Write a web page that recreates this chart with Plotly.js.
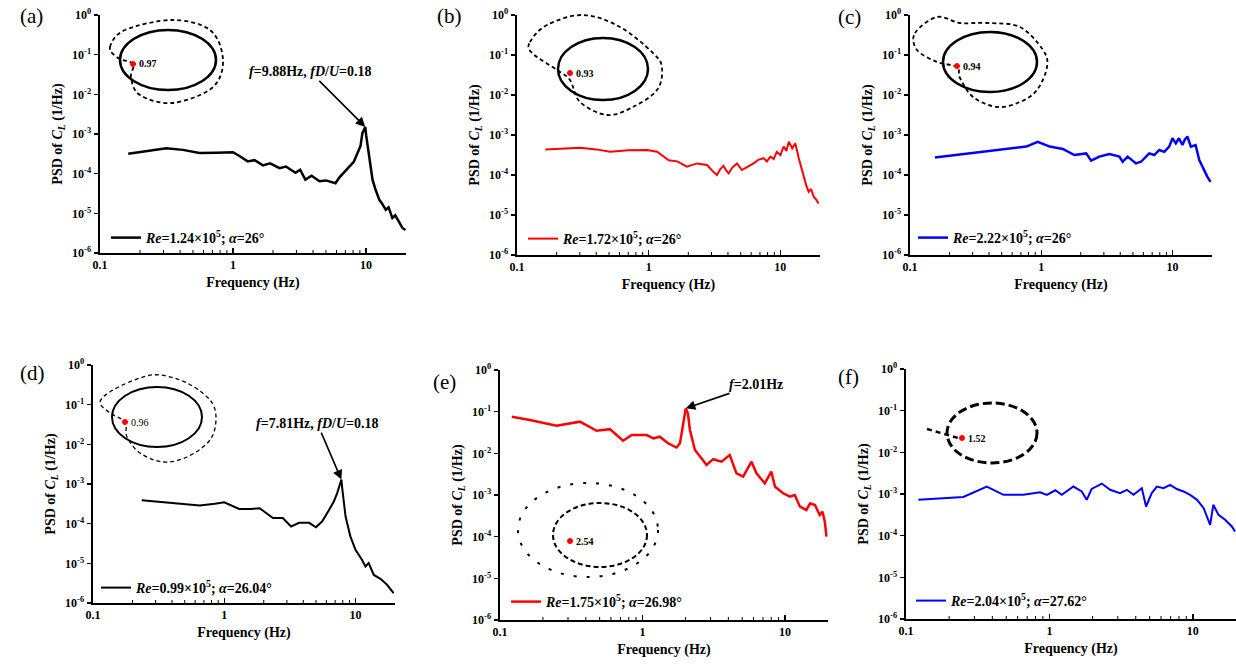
<!DOCTYPE html>
<html>
<head>
<meta charset="utf-8">
<script src="https://cdn.plot.ly/plotly-3.0.1.min.js"></script>
<style>html,body{margin:0;padding:0;background:#fff;}#chart{width:1236px;height:667px;}</style>
</head>
<body>
<div id="chart"></div>
<script>
// ---------- data ----------
const freqA = [0.163,0.22,0.316,0.42,0.56,0.75,1.0,1.15,1.29,1.45,1.68,1.9,2.24,2.5,2.95,3.2,3.5,3.9,4.47,5.0,5.9,6.3,6.6,7.0,7.5,8.1,8.66,9.1,9.4,9.88,10.05,10.3,10.7,11.2,11.8,12.6,13.2,14.1,14.8,15.8,16.6,17.5,18.8,19.8];
const psdA = [3.16e-4,3.63e-4,4.37e-4,3.98e-4,3.31e-4,3.39e-4,3.47e-4,2.63e-4,2.04e-4,2.19e-4,1.62e-4,1.82e-4,1.38e-4,1.51e-4,1.05e-4,1.26e-4,7.08e-5,8.9e-5,6.46e-5,6.76e-5,5.75e-5,7.94e-5,9.33e-5,1.12e-4,1.51e-4,2.0e-4,3.31e-4,5.01e-4,1.05e-3,1.51e-3,8.9e-4,4.9e-4,1.78e-4,7.08e-5,3.98e-5,2.19e-5,1.78e-5,1.23e-5,1.41e-5,7.6e-6,8.9e-6,6.3e-6,4.27e-6,3.8e-6];

const freqB = [0.164,0.23,0.303,0.40,0.51,0.7,0.97,1.16,1.42,1.65,1.95,2.33,2.77,3.1,3.3,3.5,3.7,3.9,4.05,4.3,4.68,5.1,5.6,6.27,6.8,7.46,7.9,8.39,8.9,9.4,10.0,10.6,11.1,11.6,12.3,13.0,13.8,14.4,15.0,15.7,16.4,17.1,17.9,18.6,19.5];
const psdB = [4.37e-4,4.68e-4,4.79e-4,4.37e-4,3.8e-4,4.17e-4,4.22e-4,3.8e-4,2.34e-4,2.19e-4,1.62e-4,1.95e-4,1.78e-4,1.2e-4,1.0e-4,1.41e-4,1.7e-4,1.26e-4,1.1e-4,1.51e-4,1.95e-4,1.33e-4,1.58e-4,1.95e-4,2.4e-4,2.63e-4,2.19e-4,2.88e-4,2.51e-4,3.8e-4,3.16e-4,5.13e-4,3.98e-4,6.76e-4,4.68e-4,6.17e-4,2.63e-4,1.58e-4,9.1e-5,5.6e-5,3.8e-5,4.47e-5,2.88e-5,2.51e-5,1.95e-5];

const freqC = [0.155,0.286,0.51,0.77,0.94,1.16,1.46,1.79,2.2,2.4,2.77,3.3,3.94,4.17,4.55,5.27,5.75,6.2,6.65,7.26,7.93,8.66,9.44,10.0,10.6,11.2,11.9,12.4,13.0,13.8,15.0,16.0,17.4,18.4,19.5];
const psdC = [2.75e-4,3.47e-4,4.22e-4,5.13e-4,6.76e-4,5.13e-4,4.47e-4,3.16e-4,3.47e-4,2.29e-4,2.88e-4,3.35e-4,2.88e-4,2.14e-4,2.88e-4,1.95e-4,2.14e-4,2.82e-4,3.47e-4,3.16e-4,4.22e-4,3.8e-4,5.13e-4,8.3e-4,6.17e-4,8.3e-4,5.62e-4,7.59e-4,9.1e-4,5.13e-4,5.62e-4,2.37e-4,1.33e-4,9.1e-5,6.76e-5];

const freqD = [0.235,0.41,0.65,0.85,1.0,1.3,1.6,1.86,2.09,2.35,2.79,3.23,3.72,4.43,5.0,5.58,6.3,6.84,7.25,7.81,7.95,8.4,9.14,10.0,11.2,11.9,12.6,13.8,15.5,17.4,19.5];
const psdD = [3.89e-4,3.31e-4,2.88e-4,3.16e-4,3.47e-4,2.34e-4,2.34e-4,2.45e-4,1.86e-4,1.38e-4,1.38e-4,8.5e-5,1.05e-4,1.05e-4,8.1e-5,1.15e-4,2.24e-4,3.63e-4,5.89e-4,1.29e-3,7.08e-4,1.51e-4,4.79e-5,2.19e-5,1.23e-5,8.3e-6,1.02e-5,5.1e-6,4.07e-6,2.88e-6,1.78e-6];

const freqE = [0.121,0.162,0.249,0.364,0.476,0.59,0.73,0.84,1.07,1.19,1.32,1.51,1.73,1.83,2.01,2.08,2.15,2.33,2.59,2.81,3.13,3.58,4.09,4.56,5.08,5.81,6.3,7.2,8.0,8.5,9.7,10.8,11.7,12.7,14.1,15.0,16.2,17.5,18.3,19.0,19.5];
const psdE = [7.59e-2,6.31e-2,4.57e-2,5.75e-2,3.47e-2,3.8e-2,2.0e-2,2.75e-2,2.75e-2,2.29e-2,2.51e-2,1.74e-2,1.38e-2,1.74e-2,1.2e-1,9.1e-2,3.63e-2,1.2e-2,7.6e-3,5.25e-3,7.24e-3,6.31e-3,9.1e-3,3.31e-3,2.75e-3,6.31e-3,3.31e-3,1.91e-3,3.63e-3,1.58e-3,1.1e-3,9.1e-4,1.0e-3,5.25e-4,4.37e-4,6.31e-4,5.75e-4,3.31e-4,3.98e-4,2.29e-4,1.0e-4];

const freqF = [0.122,0.251,0.366,0.478,0.66,0.86,0.96,1.1,1.22,1.47,1.68,1.82,1.97,2.32,2.65,3.11,3.47,3.86,4.41,4.72,5.17,5.61,6.24,6.95,7.73,8.6,9.58,10.7,11.9,13.2,13.9,15.1,16.8,18.7,19.7];
const psdF = [7.24e-4,8.51e-4,1.51e-3,9.55e-4,9.55e-4,1.1e-3,9.55e-4,1.23e-3,9.55e-4,1.51e-3,1.15e-3,7.24e-4,1.32e-3,1.78e-3,1.26e-3,1.05e-3,1.26e-3,9.55e-4,1.38e-3,5.01e-4,1.05e-3,1.51e-3,1.38e-3,1.66e-3,1.32e-3,1.15e-3,9.55e-4,7.24e-4,4.57e-4,1.82e-4,5.5e-4,3.16e-4,2.4e-4,1.66e-4,1.26e-4];

const panelLabels = ['(a)','(b)','(c)','(d)','(e)','(f)'];
const seriesNames = [
  '<i>Re</i>=1.24×10<sup>5</sup>; <i>α</i>=26°',
  '<i>Re</i>=1.72×10<sup>5</sup>; <i>α</i>=26°',
  '<i>Re</i>=2.22×10<sup>5</sup>; <i>α</i>=26°',
  '<i>Re</i>=0.99×10<sup>5</sup>; <i>α</i>=26.04°',
  '<i>Re</i>=1.75×10<sup>5</sup>; <i>α</i>=26.98°',
  '<i>Re</i>=2.04×10<sup>5</sup>; <i>α</i>=27.62°'
];
const insetValues = ['0.97','0.93','0.94','0.96','2.54','1.52'];
const xTickVals = [0.1,1,10];
const xTickText = ['0.1','1','10'];
const xMinorVals = [0.2,0.3,0.4,0.5,0.6,0.7,0.8,0.9,2,3,4,5,6,7,8,9];
const yTickVals = [1,1e-1,1e-2,1e-3,1e-4,1e-5,1e-6];
const yTickText = ['10<sup>0</sup>','10<sup>-1</sup>','10<sup>-2</sup>','10<sup>-3</sup>','10<sup>-4</sup>','10<sup>-5</sup>','10<sup>-6</sup>'];
const peakTextA = '<i>f</i>=9.88Hz, <i>fD</i>/<i>U</i>=0.18';
const peakTextD = '<i>f</i>=7.81Hz, <i>fD</i>/<i>U</i>=0.18';
const peakTextE = '<i>f</i>=2.01Hz';

// ---------- layout helpers ----------
const W = 1236, H = 667;
const X = v => v / W, Y = v => 1 - v / H;
const FONT = 'Liberation Serif';
const colors = ['#000000','#ff0000','#0000ff','#000000','#ff0000','#0000ff'];
const widths = [2.5,2,2.5,2,2.5,2];
const freqs = [freqA,freqB,freqC,freqD,freqE,freqF];
const psds = [psdA,psdB,psdC,psdD,psdE,psdF];
// pixel boxes [x0,x1,ytop,ybottom]
const boxes = [[100,406,15,253],[517,820,15,255],[910,1212,15,255],[93,395,365,603],[500,828,370,620],[906,1236,369,619]];
const legendPos = [[106,238],[523,239],[913,238],[96,588],[506,602],[911,601]];
const labelPos = [[31,16],[449,16],[849,17],[32,373],[444,382],[848,377]];

const data = [];
const layout = {
  width: W, height: H, margin: {l:0,r:0,t:0,b:0},
  paper_bgcolor: '#fff', plot_bgcolor: 'rgba(0,0,0,0)',
  showlegend: true, shapes: [], annotations: [],
  font: {family: FONT, color: '#000'}
};

for (let i = 0; i < 6; i++) {
  const s = i === 0 ? '' : String(i + 1);
  const b = boxes[i];
  const legKey = i === 0 ? 'legend' : 'legend' + (i + 1);
  data.push({
    x: freqs[i], y: psds[i], type: 'scatter', mode: 'lines',
    line: {color: colors[i], width: widths[i]},
    name: seriesNames[i], xaxis: 'x' + s, yaxis: 'y' + s, legend: legKey,
    hoverinfo: 'x+y'
  });
  layout['xaxis' + s] = {
    type: 'log', domain: [X(b[0]), X(b[1])], anchor: 'y' + s,
    range: [-1, Math.log10(20)], tickvals: xTickVals, ticktext: xTickText,
    showline: true, linewidth: 2, linecolor: '#000', showgrid: false, zeroline: false,
    ticks: 'inside', ticklen: 5, tickwidth: 1.5, tickcolor: '#000',
    tickfont: {family: FONT, size: 12, weight: 'bold', color: '#000'},
    title: {text: 'Frequency (Hz)', font: {family: FONT, size: 14, weight: 'bold', color: '#000'}, standoff: 6},
    automargin: false
  };
  layout['yaxis' + s] = {
    type: 'log', domain: [Y(b[3]), Y(b[2])], anchor: 'x' + s,
    range: [-6, 0], tickvals: yTickVals, ticktext: yTickText,
    showline: true, linewidth: 2.5, linecolor: '#000', showgrid: false, zeroline: false,
    ticks: 'outside', ticklen: 4, tickwidth: 1.5, tickcolor: '#000',
    tickfont: {family: FONT, size: 12, weight: 'bold', color: '#000'},
    title: {text: 'PSD of <i>C</i><sub><i>L</i></sub> (1/Hz)', font: {family: FONT, size: 14, weight: 'bold', color: '#000'}, standoff: 6},
    automargin: false
  };
  layout[legKey] = {
    x: X(legendPos[i][0]), y: Y(legendPos[i][1]), xref: 'paper', yref: 'paper',
    xanchor: 'left', yanchor: 'middle', bgcolor: 'rgba(0,0,0,0)', borderwidth: 0,
    font: {family: FONT, size: 14, weight: 'bold', color: '#000'}, itemwidth: 30,
    tracegroupgap: 0
  };
  layout.annotations.push({
    text: panelLabels[i], xref: 'paper', yref: 'paper',
    x: X(labelPos[i][0]), y: Y(labelPos[i][1]), showarrow: false,
    xanchor: 'center', yanchor: 'middle', font: {family: FONT, size: 21, color: '#000'}
  });
  // minor x ticks drawn as short inward line shapes at the minor tick values
  xMinorVals.forEach(v => {
    layout.shapes.push({type: 'line', xref: 'x' + s, yref: 'paper',
      x0: v, x1: v, y0: Y(b[3]), y1: Y(b[3] - 3), line: {color: '#000', width: 1}});
  });
}

// peak annotations (arrow tip at series maximum)
function peakAnn(fr, ps, s, text, ax, ay) {
  let k = 0;
  for (let j = 1; j < ps.length; j++) if (ps[j] > ps[k]) k = j;
  layout.annotations.push({
    text: text, xref: 'x' + s, yref: 'y' + s,
    x: Math.log10(fr[k]), y: Math.log10(ps[k]), ax: ax, ay: ay,
    showarrow: true, arrowhead: 2, arrowsize: 1.2, arrowwidth: 1.6, arrowcolor: '#000',
    font: {family: FONT, size: 14, weight: 'bold', color: '#000'}
  });
}
peakAnn(freqA, psdA, '', peakTextA, -55, -55);
peakAnn(freqD, psdD, '4', peakTextD, -24, -56);
peakAnn(freqE, psdE, '5', peakTextE, 70, -24);

// ---------- inset sketches (decoration in paper coordinates) ----------
function fp(p) { return X(p[0]).toFixed(5) + ',' + Y(p[1]).toFixed(5); }
function smoothPath(pts) {
  const n = pts.length;
  let d = 'M' + fp(pts[0]);
  for (let i = 0; i < n; i++) {
    const p0 = pts[(i - 1 + n) % n], p1 = pts[i], p2 = pts[(i + 1) % n], p3 = pts[(i + 2) % n];
    const c1 = [p1[0] + (p2[0] - p0[0]) / 6, p1[1] + (p2[1] - p0[1]) / 6];
    const c2 = [p2[0] - (p3[0] - p1[0]) / 6, p2[1] - (p3[1] - p1[1]) / 6];
    d += ' C' + fp(c1) + ' ' + fp(c2) + ' ' + fp(p2);
  }
  return d + ' Z';
}
function ellipse(cx, cy, rx, ry, line) {
  layout.shapes.push({type: 'circle', xref: 'paper', yref: 'paper',
    x0: X(cx - rx), x1: X(cx + rx), y0: Y(cy + ry), y1: Y(cy - ry), line: line});
}
function outline(pts, line) {
  layout.shapes.push({type: 'path', xref: 'paper', yref: 'paper', path: smoothPath(pts), line: line});
}
function dot(cx, cy, label, bold) {
  layout.shapes.push({type: 'circle', xref: 'paper', yref: 'paper',
    x0: X(cx - 2.5), x1: X(cx + 2.5), y0: Y(cy + 2.5), y1: Y(cy - 2.5),
    fillcolor: '#ff0000', line: {color: '#ff0000', width: 1}});
  layout.annotations.push({text: label, xref: 'paper', yref: 'paper', x: X(cx + 4), y: Y(cy),
    xanchor: 'left', yanchor: 'middle', showarrow: false,
    font: {family: FONT, size: 10, weight: bold ? 'bold' : 'normal', color: '#000'}});
}
const solid = {color: '#000', width: 2.5};
const dashed = {color: '#000', width: 1.8, dash: '4px,3px'};

// (a)
ellipse(168, 60, 48, 30, solid);
outline([[110,47],[125,30],[172,20],[210,30],[223,60],[212,88],[172,103],[140,95],[131,78],[133,64],[118,58]], dashed);
dot(133, 64, insetValues[0], true);
// (b)
ellipse(603, 69, 45, 31, solid);
outline([[530,42],[547,25],[583,15],[620,27],[653,53],[662,68],[657,90],[633,107],[607,115],[580,102],[570,80],[557,70],[532,53]], dashed);
dot(570, 73, insetValues[1], true);
// (c)
ellipse(990, 62, 47, 30, solid);
outline([[915,33],[937,17],[960,23],[987,23],[1020,27],[1043,50],[1047,67],[1037,90],[1020,102],[997,107],[973,97],[960,78],[957,67],[937,62],[917,50]], dashed);
dot(957, 66, insetValues[2], true);
// (d)
ellipse(157, 417, 45, 30, {color: '#000', width: 2});
outline([[100,402],[113,390],[140,378],[160,375],[187,383],[210,400],[216,418],[210,440],[187,457],[163,462],[140,453],[127,437],[125,422],[110,413]], {color: '#000', width: 1.3, dash: '4px,3px'});
dot(125, 422, insetValues[3], false);
// (e)
ellipse(600, 535, 47, 32, {color: '#000', width: 2, dash: '5px,3px'});
ellipse(588, 530, 70, 47, {color: '#000', width: 2, dash: '3px,10px'});
dot(570, 541, insetValues[4], true);
// (f)
ellipse(992, 433, 45, 30, {color: '#000', width: 3, dash: '9px,4px'});
layout.shapes.push({type: 'line', xref: 'paper', yref: 'paper', x0: X(927), y0: Y(429), x1: X(958), y1: Y(438),
  line: {color: '#000', width: 2.5, dash: '5px,4px'}});
dot(962, 438, insetValues[5], true);

Plotly.newPlot('chart', data, layout, {displayModeBar: false, staticPlot: true});
</script>
</body>
</html>
